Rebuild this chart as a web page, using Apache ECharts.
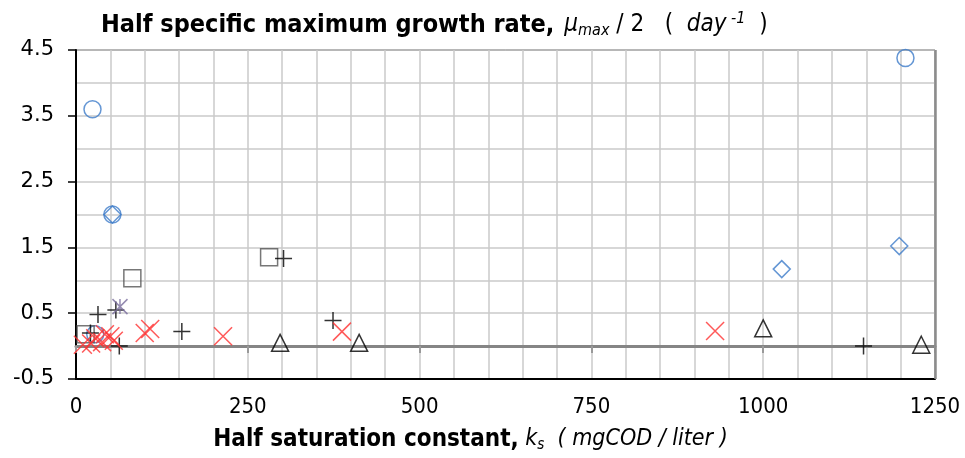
<!DOCTYPE html>
<html>
<head>
<meta charset="utf-8">
<script src="https://cdn.jsdelivr.net/npm/echarts@6/dist/echarts.min.js"></script>
<style>
  html, body { margin: 0; padding: 0; background: #fff; }
  #chart { width: 965px; height: 458px; }
</style>
</head>
<body>
<div id="chart"></div>
<script>
// data: [ks (mgCOD/liter), mu_max/2 (1/day)]
var circles = [[24, 3.6], [53, 2.0], [28, 0.18], [1207, 4.38]];
var diamonds = [[53, 2.0], [1027, 1.17], [1198, 1.52]];
var squares = [[14, 0.18], [82, 1.03], [281, 1.35]];
var pluses = [[21, 0.2], [32, 0.48], [58, 0.55], [63, 0.0], [154, 0.22], [302, 1.33], [374, 0.39], [1146, 0.0]];
var stars = [[64, 0.6]];
var crosses = [[10, 0.02], [22, 0.04], [28, 0.12], [38, 0.06], [42, 0.18], [50, 0.15], [55, 0.08],
               [100, 0.2], [108, 0.26], [214, 0.15], [387, 0.22], [930, 0.23]];
var triangles = [[297, 0.05], [412, 0.05], [1000, 0.27], [1230, 0.02]];

var xLabels = [0, 250, 500, 750, 1000, 1250];
var yLabels = [-0.5, 0.5, 1.5, 2.5, 3.5, 4.5];

var FONT = '"Liberation Sans Narrow", "DejaVu Sans Condensed", "Liberation Sans", sans-serif';
var PLUS = 'path://M0,5 L10,5 M5,0 L5,10';
var CROSS = 'path://M0,0 L10,10 M10,0 L0,10';
var STAR = 'path://M0,0 L10,10 M10,0 L0,10 M5,0 L5,10';

function pts(data, symbol, size, color, width) {
  return {
    type: 'scatter',
    data: data,
    symbol: symbol,
    symbolSize: size,
    itemStyle: { color: 'transparent', borderColor: color, borderWidth: width || 1.5 },
    emphasis: { disabled: true },
    z: 5
  };
}

var chart = echarts.init(document.getElementById('chart'));
chart.setOption({
  animation: false,
  title: {
    left: 96,
    top: 6,
    text: '{b|Half specific maximum growth rate,}  {i|μ}{sub|max}{n| / 2   (  }{i|day}{sup| -1}{n|  )}',
    textStyle: {
      rich: {
        b: { fontFamily: FONT, fontWeight: 'bold', fontSize: 25, color: '#000' },
        i: { fontFamily: FONT, fontWeight: 'normal', fontStyle: 'italic', fontSize: 24, color: '#000' },
        n: { fontFamily: FONT, fontWeight: 'normal', fontSize: 24, color: '#000' },
        sub: { fontFamily: FONT, fontWeight: 'normal', fontStyle: 'italic', fontSize: 16, color: '#000', verticalAlign: 'bottom', padding: [12, 0, 0, 0] },
        sup: { fontFamily: FONT, fontWeight: 'normal', fontStyle: 'italic', fontSize: 16, color: '#000', verticalAlign: 'top', padding: [0, 0, 12, 0] }
      }
    }
  },
  grid: { left: 76, right: 30, top: 50, bottom: 78, show: true, borderColor: '#000', borderWidth: 1 },
  xAxis: [{
    type: 'value', min: 0, max: 1250, interval: 50,
    axisLine: { onZero: false, lineStyle: { color: '#000', width: 2 } },
    axisTick: { show: false },
    axisLabel: {
      fontFamily: FONT, fontSize: 22, color: '#000', margin: 17,
      formatter: function (v) { return xLabels.indexOf(v) >= 0 ? String(v) : ''; }
    },
    splitLine: { lineStyle: { color: '#cacaca', width: 1.5 } },
    name: '{b|Half saturation constant,}  {i|k}{sub|s}{i|  ( mgCOD / liter )}',
    nameLocation: 'middle',
    nameGap: 47,
    nameTextStyle: {
      padding: [0, 70, 0, 0],
      rich: {
        b: { fontFamily: FONT, fontWeight: 'bold', fontSize: 24, color: '#000' },
        i: { fontFamily: FONT, fontStyle: 'italic', fontSize: 23, color: '#000' },
        sub: { fontFamily: FONT, fontStyle: 'italic', fontSize: 15, color: '#000', verticalAlign: 'bottom', padding: [12, 0, 0, 0] }
      }
    }
  }, {
    // zero line with ticks every 250
    type: 'value', min: 0, max: 1250, interval: 250, position: 'bottom',
    axisLine: { onZero: true, onZeroAxisIndex: 0, lineStyle: { color: '#858585', width: 3 } },
    axisTick: { show: true, length: 7, lineStyle: { color: '#999', width: 2 } },
    axisLabel: { show: false },
    splitLine: { show: false }
  }],
  yAxis: [{
    type: 'value', min: -0.5, max: 4.5, interval: 0.5,
    axisLine: { show: true, lineStyle: { color: '#000', width: 2 } },
    axisTick: { show: false },
    axisLabel: { show: false },
    splitLine: { lineStyle: { color: '#cacaca', width: 1.5 } }
  }, {
    type: 'value', min: -0.5, max: 4.5, interval: 1, position: 'left',
    axisLine: { show: false },
    axisTick: { show: true, length: 8, lineStyle: { color: '#000', width: 1.5 } },
    axisLabel: { fontFamily: '"DejaVu Sans", sans-serif', fontSize: 21, color: '#000', margin: 22,
      formatter: function (v) { return yLabels.indexOf(v) >= 0 ? v.toFixed(1) : ''; } },
    splitLine: { show: false }
  }],
  series: [
    pts(circles, 'circle', 17, '#3d7cc9'),
    pts(diamonds, 'diamond', 17, '#3d7cc9'),
    pts(squares, 'rect', 17, '#555555'),
    pts(pluses, PLUS, 17, '#000000'),
    pts(stars, STAR, 15, '#7a6e9e'),
    pts(crosses, CROSS, 18, '#ff3030'),
    pts(triangles, 'triangle', 17, '#000000'),
    {
      type: 'line', data: [], silent: true,
      markLine: {
        symbol: 'none', silent: true, label: { show: false },
        lineStyle: { type: 'solid', color: '#8c8c8c', width: 2.5 },
        data: [{ xAxis: 1250 }]
      }
    }
  ]
});
</script>
</body>
</html>
